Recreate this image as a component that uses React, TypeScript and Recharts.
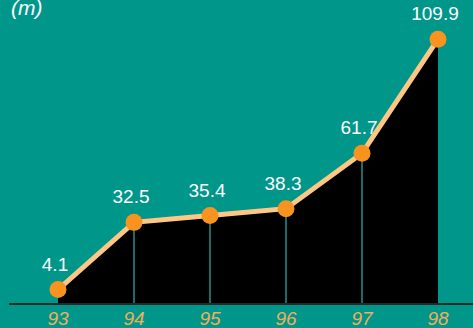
import React from "react";
import { AreaChart, Area, XAxis, YAxis, ReferenceLine, LabelList } from "recharts";

const years = ["93", "94", "95", "96", "97", "98"];
const heights = [4.1, 32.5, 35.4, 38.3, 61.7, 109.9];
const unitLabel = "(m)";

const data = years.map((y, i) => ({ year: y, value: heights[i] }));

const BG = "#00968A";
const LINE = "#FFC785";
const DOT = "#F7931E";
const TICK = "#F2AE5C";
const FONT = "'Liberation Sans Narrow', 'Liberation Sans', Arial, sans-serif";

const Tick = (props: any) => {
  const { x, y, payload } = props;
  return (
    <text x={x} y={y + 13} textAnchor="middle" fill={TICK} fontFamily={FONT} fontStyle="italic" fontSize={19}>
      {payload.value}
    </text>
  );
};

const ValueLabel = (props: any) => {
  const { x, y, value } = props;
  return (
    <text x={x - 3} y={y - 19} textAnchor="middle" fill="#ffffff" fontFamily={FONT} fontSize={19}>
      {value}
    </text>
  );
};

export default function App() {
  return (
    <div style={{ position: "absolute", left: 0, top: 0, width: 473, height: 328, background: BG, overflow: "hidden" }}>
      <AreaChart width={473} height={328} data={data} margin={{ top: 39, right: 0, bottom: 0, left: 9 }}>
        <YAxis hide domain={[-2, 110]} type="number" />
        <XAxis
          dataKey="year"
          height={24}
          padding={{ left: 49, right: 35 }}
          axisLine={{ stroke: "#222a29", strokeWidth: 2 }}
          tickLine={false}
          tick={<Tick />}
          interval={0}
        />
        <Area
          type="linear"
          dataKey="value"
          baseValue={-2}
          stroke="none"
          fill="#000000"
          fillOpacity={1}
          isAnimationActive={false}
          dot={false}
          activeDot={false}
        />
        {data.slice(1, data.length - 1).map((d) => (
          <ReferenceLine
            key={d.year}
            segment={[{ x: d.year, y: d.value }, { x: d.year, y: -2 }]}
            stroke="#2a8f8a"
            strokeWidth={1.5}
          />
        ))}
        <Area
          type="linear"
          dataKey="value"
          baseValue={-2}
          stroke={LINE}
          strokeWidth={5}
          fill="none"
          fillOpacity={1}
          isAnimationActive={false}
          dot={{ r: 8.5, fill: DOT, fillOpacity: 1, stroke: "none", strokeOpacity: 0 }}
          activeDot={false}
        >
          <LabelList dataKey="value" content={<ValueLabel />} />
        </Area>
      </AreaChart>
      <div
        style={{
          position: "absolute",
          left: 11,
          top: -4,
          color: "#ffffff",
          fontFamily: FONT,
          fontStyle: "italic",
          fontSize: 21,
        }}
      >
        {unitLabel}
      </div>
    </div>
  );
}
